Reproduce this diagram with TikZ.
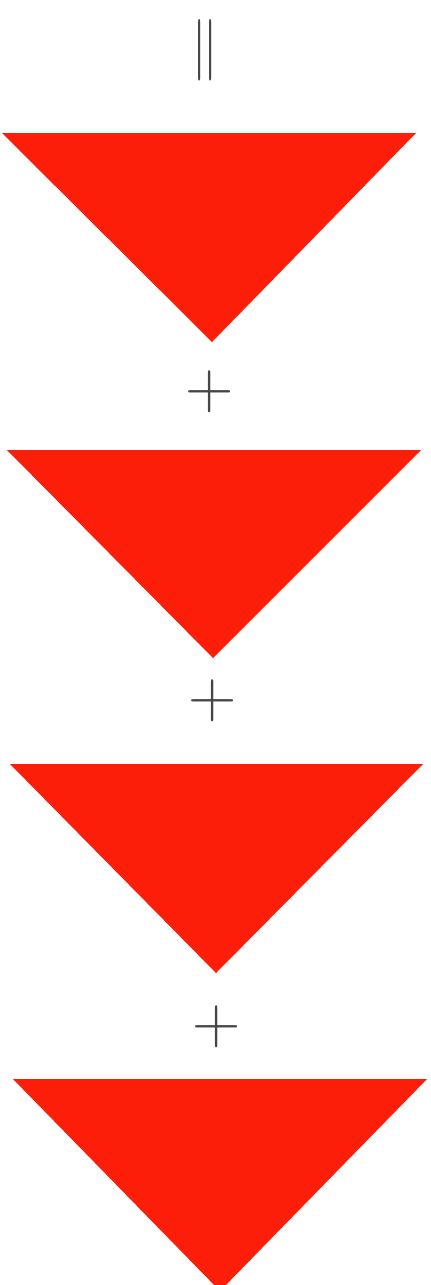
\documentclass[tikz,border=0pt]{standalone}
\usepackage{graphicx}
\definecolor{trired}{RGB}{252,30,8}
\definecolor{symgray}{RGB}{70,70,70}
\tikzset{
  tri/.style={fill=trired, draw=none},
  plussign/.style={inner sep=0pt, outer sep=0pt, text=symgray, font=\fontsize{67}{67}\selectfont},
  eqsign/.style={inner sep=0pt, outer sep=0pt, text=symgray, rotate=90, anchor=base}
}
\begin{document}
\begin{tikzpicture}[x=1pt,y=-1pt]
\useasboundingbox (0,0) rectangle (431,1285);
\clip (0,0) rectangle (431,1285);
% equals sign, rotated
\node[eqsign] (eq) at (220.5,50) {\fontsize{98}{98}\selectfont\scalebox{1}[0.63]{=}};
% triangles
\fill[tri] (2,133) -- (416,133) -- (212,342) -- cycle;
\node[plussign] (p1) at (210,392) {+};
\fill[tri] (7,450) -- (421,450) -- (213,658) -- cycle;
\node[plussign] (p2) at (213,701) {+};
\fill[tri] (10,764) -- (423,764) -- (216,973) -- cycle;
\node[plussign] (p3) at (217,1027) {+};
\fill[tri] (13,1079) -- (427,1079) -- (220,1291) -- cycle;
\end{tikzpicture}
\end{document}
